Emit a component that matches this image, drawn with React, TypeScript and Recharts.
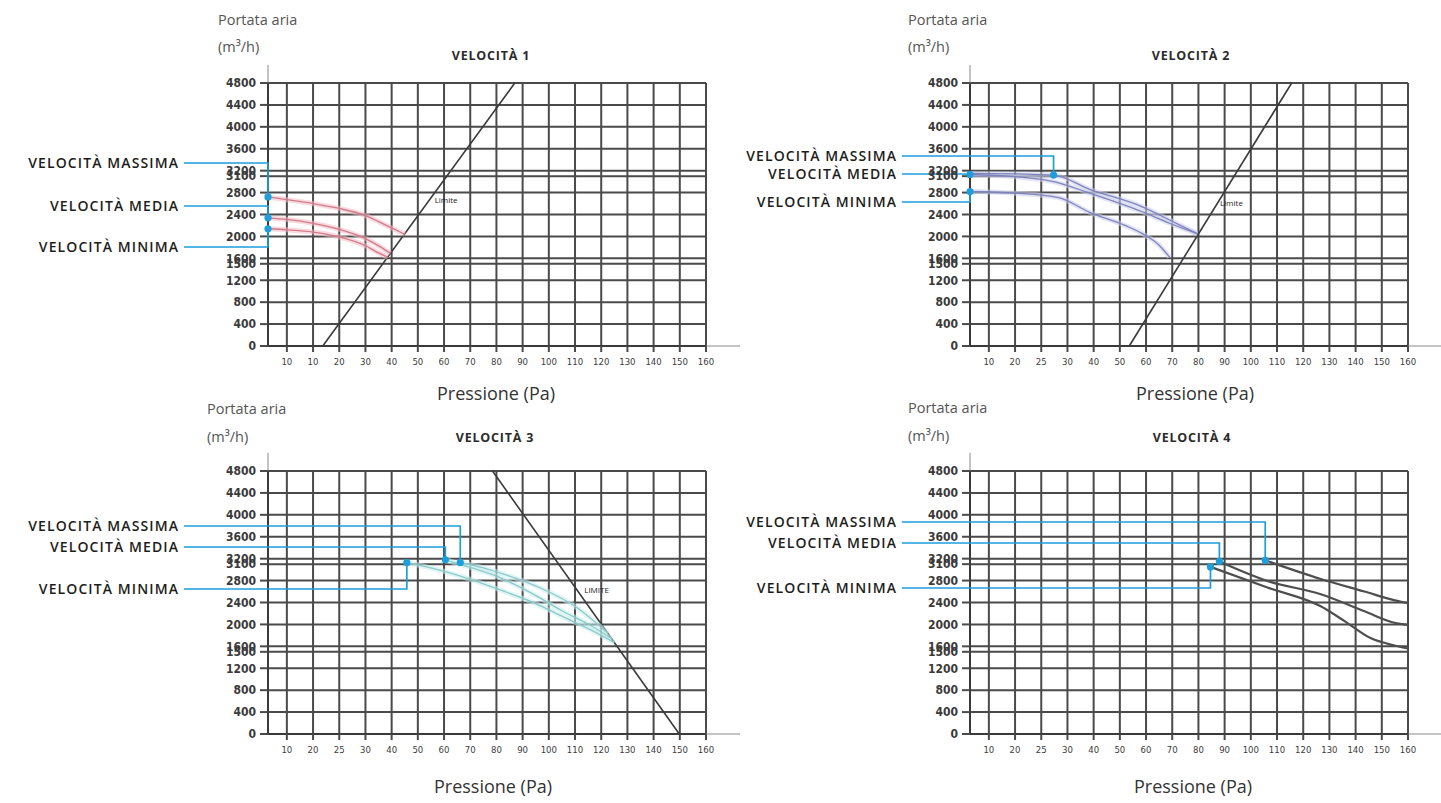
import React from 'react'
import { LineChart, Line, XAxis, YAxis, CartesianGrid, ReferenceLine, ReferenceDot } from 'recharts'

type Pt = { x: number; y: number }

// x positions are tick slots 1..17, labels come from the arrays below
const X_MIN = 0.28
const X_MAX = 17
const X_EXT = 18.3
const xTicks = [1, 2, 3, 4, 5, 6, 7, 8, 9, 10, 11, 12, 13, 14, 15, 16, 17]
const yTicks = [0, 400, 800, 1200, 1500, 1600, 2000, 2400, 2800, 3100, 3200, 3600, 4000, 4400, 4800]
const xLabelsV1 = ['10', '10', '20', '30', '40', '50', '60', '70', '80', '90', '100', '110', '120', '130', '140', '150', '160']
const xLabels = ['10', '20', '25', '30', '40', '50', '60', '70', '80', '90', '100', '110', '120', '130', '140', '150', '160']

// VELOCITÀ 1
const v1Max: Pt[] = [{ x: 0.28, y: 2720 }, { x: 1, y: 2670 }, { x: 2, y: 2600 }, { x: 3, y: 2510 }, { x: 4, y: 2380 }, { x: 4.8, y: 2200 }, { x: 5.5, y: 2040 }]
const v1Med: Pt[] = [{ x: 0.28, y: 2340 }, { x: 1, y: 2310 }, { x: 2, y: 2240 }, { x: 3, y: 2130 }, { x: 4, y: 1960 }, { x: 4.6, y: 1800 }, { x: 4.95, y: 1690 }]
const v1Min: Pt[] = [{ x: 0.28, y: 2140 }, { x: 1, y: 2120 }, { x: 2, y: 2080 }, { x: 3, y: 1990 }, { x: 4, y: 1830 }, { x: 4.5, y: 1700 }, { x: 4.85, y: 1620 }]
const limite1: Pt[] = [{ x: 2.37, y: 0 }, { x: 9.7, y: 4800 }]

// VELOCITÀ 2
const v2Max: Pt[] = [{ x: 0.28, y: 3150 }, { x: 2, y: 3140 }, { x: 3.47, y: 3120 }, { x: 4.85, y: 2860 }, { x: 6.86, y: 2540 }, { x: 7.9, y: 2300 }, { x: 8.95, y: 2050 }]
const v2Med: Pt[] = [{ x: 0.28, y: 3130 }, { x: 2, y: 3090 }, { x: 3.47, y: 3000 }, { x: 4.85, y: 2790 }, { x: 6.86, y: 2450 }, { x: 7.9, y: 2240 }, { x: 8.95, y: 2050 }]
const v2Min: Pt[] = [{ x: 0.28, y: 2820 }, { x: 2, y: 2790 }, { x: 3.66, y: 2710 }, { x: 4.84, y: 2440 }, { x: 6.2, y: 2200 }, { x: 6.86, y: 2050 }, { x: 7.5, y: 1840 }, { x: 7.9, y: 1620 }]
const limite2: Pt[] = [{ x: 6.36, y: 0 }, { x: 12.56, y: 4800 }]

// VELOCITÀ 3
const v3Max: Pt[] = [{ x: 7.62, y: 3130 }, { x: 8.5, y: 3030 }, { x: 9.5, y: 2880 }, { x: 10.7, y: 2660 }, { x: 12, y: 2330 }, { x: 13.25, y: 1840 }]
const v3Med: Pt[] = [{ x: 7.05, y: 3180 }, { x: 8, y: 3040 }, { x: 9, y: 2880 }, { x: 10.3, y: 2580 }, { x: 11.5, y: 2250 }, { x: 12.6, y: 1980 }, { x: 13.4, y: 1740 }]
const v3Min: Pt[] = [{ x: 5.58, y: 3130 }, { x: 6.5, y: 3030 }, { x: 7.5, y: 2900 }, { x: 9.2, y: 2620 }, { x: 10.5, y: 2380 }, { x: 11.5, y: 2150 }, { x: 12.6, y: 1900 }, { x: 13.5, y: 1670 }]
const limite3: Pt[] = [{ x: 8.85, y: 4800 }, { x: 15.98, y: 0 }]

// VELOCITÀ 4
const v4Max: Pt[] = [{ x: 11.55, y: 3170 }, { x: 13.67, y: 2830 }, { x: 15.34, y: 2600 }, { x: 16.5, y: 2440 }, { x: 17, y: 2390 }]
const v4Med: Pt[] = [{ x: 9.8, y: 3150 }, { x: 11.66, y: 2790 }, { x: 13.67, y: 2550 }, { x: 15.34, y: 2240 }, { x: 16.48, y: 2030 }, { x: 17, y: 1990 }]
const v4Min: Pt[] = [{ x: 9.46, y: 3050 }, { x: 11.66, y: 2670 }, { x: 13.67, y: 2330 }, { x: 14.58, y: 2060 }, { x: 15.57, y: 1750 }, { x: 16.52, y: 1610 }, { x: 17, y: 1560 }]

const BLUE = '#1c9fdb'
const GRID = '#4a4a4a'
const TICK_FONT = "'Liberation Sans Narrow', 'DejaVu Sans Condensed', 'Liberation Sans', sans-serif"
const TEXT_FONT = "'Open Sans', 'Noto Sans', sans-serif"

type Marker = { index: number; label: string; labelY: number }
type Curve = { data: Pt[]; core: string; halo?: string; width: number; marker?: Marker }

const markerDot = (m: Marker, labelRight: number) => (props: any) => {
  const { cx, cy, index } = props
  if (index !== m.index || cx == null || cy == null) return <g key={`d-${index}`} />
  return (
    <g key={`d-${index}`}>
      <polyline
        points={`${labelRight + 5},${m.labelY} ${cx},${m.labelY} ${cx},${cy}`}
        fill="none"
        stroke={BLUE}
        strokeWidth={1.7}
      />
      <circle cx={cx} cy={cy} r={3.6} fill={BLUE} />
      <text
        x={labelRight}
        y={m.labelY}
        dy="0.36em"
        textAnchor="end"
        fontFamily={TEXT_FONT}
        fontWeight={600}
        fontSize={14}
        letterSpacing={1.1}
        fill="#1d1d1b"
      >
        {m.label}
      </text>
    </g>
  )
}

type PanelProps = {
  left: number
  top: number
  width: number
  labels: string[]
  curves: Curve[]
  labelRight: number
  limite?: Pt[]
  limiteLabel?: { x: number; y: number; text: string }
}

function Panel({ left, top, width, labels, curves, labelRight, limite, limiteLabel }: PanelProps) {
  return (
    <div style={{ position: 'absolute', left, top }}>
      <LineChart width={width} height={400} margin={{ top: 83, right: width - 706, bottom: 24, left: 218 }}>
        <CartesianGrid stroke={GRID} strokeWidth={2} />
        <XAxis
          type="number"
          dataKey="x"
          domain={[X_MIN, X_MAX]}
          ticks={xTicks}
          interval={0}
          tickFormatter={(v: number) => labels[v - 1]}
          height={30}
          tickSize={6}
          tickMargin={6}
          axisLine={{ stroke: '#3a3a3a', strokeWidth: 2 }}
          tickLine={{ stroke: GRID, strokeWidth: 2 }}
          tick={{ fontSize: 9.5, fill: '#3c3c3c', fontFamily: TICK_FONT }}
        />
        <YAxis
          type="number"
          domain={[0, 4800]}
          ticks={yTicks}
          interval={0}
          width={50}
          tickSize={8}
          tickMargin={4}
          axisLine={{ stroke: '#3a3a3a', strokeWidth: 2 }}
          tickLine={{ stroke: GRID, strokeWidth: 2 }}
          tick={{ fontSize: 12, fill: '#3a3a3a', fontFamily: TICK_FONT, fontWeight: 700 }}
        />
        <ReferenceLine segment={[{ x: X_MIN, y: 4800 }, { x: X_MIN, y: 5130 }]} stroke="#8a8a8a" strokeWidth={1} ifOverflow="visible" />
        <ReferenceLine segment={[{ x: X_MAX, y: 0 }, { x: X_EXT, y: 0 }]} stroke="#8a8a8a" strokeWidth={1.2} ifOverflow="visible" />
        {limite && (
          <Line data={limite} dataKey="y" type="linear" stroke="#3a3a3a" strokeWidth={1.6} dot={false} activeDot={false} isAnimationActive={false} />
        )}
        {curves.filter(c => c.halo).map((c, i) => (
          <Line
            key={`h${i}`}
            data={c.data}
            dataKey="y"
            type="monotone"
            stroke={c.halo}
            strokeWidth={5}
            strokeOpacity={0.55}
            dot={false}
            activeDot={false}
            isAnimationActive={false}
          />
        ))}
        {curves.map((c, i) => (
          <Line
            key={`c${i}`}
            data={c.data}
            dataKey="y"
            type="monotone"
            stroke={c.core}
            strokeWidth={c.width}
            dot={c.marker ? markerDot(c.marker, labelRight) : false}
            activeDot={false}
            isAnimationActive={false}
          />
        ))}
        {limiteLabel && (
          <ReferenceDot
            x={limiteLabel.x}
            y={limiteLabel.y}
            r={0}
            fill="none"
            stroke="none"
            label={{ value: limiteLabel.text, position: 'right', fontSize: 8, fill: '#222', fontFamily: TEXT_FONT }}
          />
        )}
      </LineChart>
    </div>
  )
}

const txt = (s: React.CSSProperties): React.CSSProperties => ({
  position: 'absolute',
  fontFamily: TEXT_FONT,
  lineHeight: 1,
  whiteSpace: 'nowrap',
  ...s,
})

function Captions({ px, py, my, tx, ty, name, cx, cy }: { px: number; py: number; my: number; tx: number; ty: number; name: string; cx: number; cy: number }) {
  return (
    <>
      <div style={txt({ left: px, top: py, transform: 'translateY(-50%)', fontSize: 14.5, color: '#555' })}>Portata aria</div>
      <div style={txt({ left: px, top: my, transform: 'translateY(-50%)', fontSize: 14.5, color: '#555' })}>(m³/h)</div>
      <div style={txt({ left: tx, top: ty, transform: 'translate(-50%,-50%)', fontSize: 12.5, fontWeight: 700, letterSpacing: 0.8, color: '#2b2b2b' })}>{name}</div>
      <div style={txt({ left: cx, top: cy, transform: 'translate(-50%,-50%)', fontSize: 18, color: '#333' })}>Pressione (Pa)</div>
    </>
  )
}

export default function App() {
  const pink = { core: '#d27b8a', halo: '#f2bcc4', width: 1.3 }
  const lav = { core: '#7d82bd', halo: '#cacdeb', width: 1.3 }
  const teal = { core: '#8ccaca', halo: '#c8ecec', width: 1.3 }
  const gray = { core: '#4e4e4e', width: 2.2 }

  return (
    <div style={{ position: 'absolute', left: 0, top: 0, width: 1441, height: 803, background: '#fff', overflow: 'hidden' }}>
      <Panel
        left={0}
        top={0}
        width={745}
        labels={xLabelsV1}
        labelRight={179}
        limite={limite1}
        limiteLabel={{ x: 6.45, y: 2665, text: 'Limite' }}
        curves={[
          { data: v1Max, ...pink, marker: { index: 0, label: 'VELOCITÀ MASSIMA', labelY: 163 } },
          { data: v1Med, ...pink, marker: { index: 0, label: 'VELOCITÀ MEDIA', labelY: 206 } },
          { data: v1Min, ...pink, marker: { index: 0, label: 'VELOCITÀ MINIMA', labelY: 247 } },
        ]}
      />
      <Panel
        left={702}
        top={0}
        width={739}
        labels={xLabels}
        labelRight={195}
        limite={limite2}
        limiteLabel={{ x: 9.63, y: 2600, text: 'Limite' }}
        curves={[
          { data: v2Max, ...lav, marker: { index: 2, label: 'VELOCITÀ MASSIMA', labelY: 156 } },
          { data: v2Med, ...lav, marker: { index: 0, label: 'VELOCITÀ MEDIA', labelY: 174 } },
          { data: v2Min, ...lav, marker: { index: 0, label: 'VELOCITÀ MINIMA', labelY: 202 } },
        ]}
      />
      <Panel
        left={0}
        top={388}
        width={745}
        labels={xLabels}
        labelRight={179}
        limite={limite3}
        limiteLabel={{ x: 12.16, y: 2620, text: 'LIMITE' }}
        curves={[
          { data: v3Max, ...teal, marker: { index: 0, label: 'VELOCITÀ MASSIMA', labelY: 138 } },
          { data: v3Med, ...teal, marker: { index: 0, label: 'VELOCITÀ MEDIA', labelY: 159 } },
          { data: v3Min, ...teal, marker: { index: 0, label: 'VELOCITÀ MINIMA', labelY: 201 } },
        ]}
      />
      <Panel
        left={702}
        top={388}
        width={739}
        labels={xLabels}
        labelRight={195}
        curves={[
          { data: v4Max, ...gray, marker: { index: 0, label: 'VELOCITÀ MASSIMA', labelY: 134 } },
          { data: v4Med, ...gray, marker: { index: 0, label: 'VELOCITÀ MEDIA', labelY: 155 } },
          { data: v4Min, ...gray, marker: { index: 0, label: 'VELOCITÀ MINIMA', labelY: 200 } },
        ]}
      />
      <Captions px={218} py={20} my={47} tx={491} ty={56} name="VELOCITÀ 1" cx={496} cy={393} />
      <Captions px={908} py={20} my={47} tx={1191} ty={56} name="VELOCITÀ 2" cx={1195} cy={393} />
      <Captions px={207} py={409} my={437} tx={495} ty={438} name="VELOCITÀ 3" cx={493} cy={786} />
      <Captions px={908} py={408} my={436} tx={1192} ty={438} name="VELOCITÀ 4" cx={1193} cy={786} />
    </div>
  )
}
